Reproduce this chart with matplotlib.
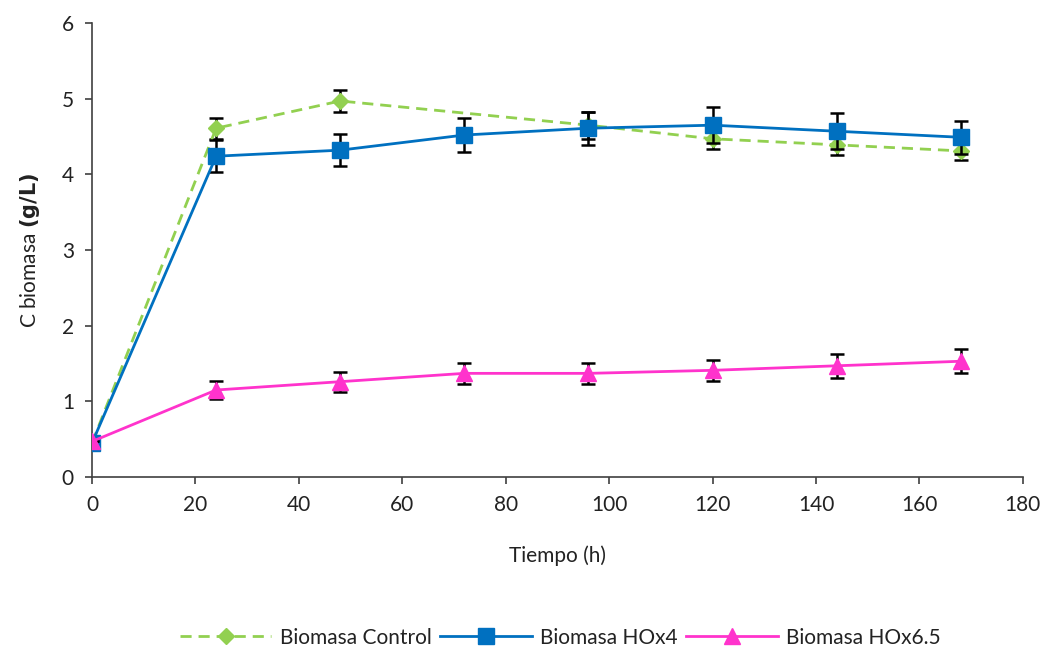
import matplotlib
matplotlib.use("Agg")
import matplotlib.pyplot as plt
from matplotlib.lines import Line2D

plt.rcParams['font.family'] = ['Lato', 'DejaVu Sans']

t_control = [0, 24, 48, 96, 120, 144, 168]
control = [0.45, 4.61, 4.97, 4.65, 4.47, 4.39, 4.31]
control_err = [0.0, 0.14, 0.15, 0.18, 0.13, 0.13, 0.12]

t_hox = [0, 24, 48, 72, 96, 120, 144, 168]
hox4 = [0.45, 4.24, 4.32, 4.52, 4.61, 4.65, 4.57, 4.49]
hox4_err = [0.0, 0.21, 0.21, 0.23, 0.22, 0.24, 0.24, 0.22]
hox65 = [0.47, 1.15, 1.26, 1.37, 1.37, 1.41, 1.47, 1.53]
hox65_err = [0.0, 0.12, 0.13, 0.14, 0.14, 0.14, 0.16, 0.16]

labels = ["Biomasa Control", "Biomasa HOx4", "Biomasa HOx6.5"]
colors = ["#92D050", "#0070C0", "#FF33CC"]

fig = plt.figure(figsize=(10.47, 6.49), dpi=100)
ax = fig.add_axes([0.0879, 0.265, 0.889, 0.6995])

ekw = dict(ecolor="black", elinewidth=1.8, capsize=5, capthick=1.8)
ax.errorbar(t_control, control, yerr=control_err, color=colors[0], ls=(0, (4, 2.5)),
            lw=2, marker="D", ms=8, zorder=3, **ekw)
ax.errorbar(t_hox, hox4, yerr=hox4_err, color=colors[1], ls="-", lw=2,
            marker="s", ms=12, zorder=4, **ekw)
ax.errorbar(t_hox, hox65, yerr=hox65_err, color=colors[2], ls="-", lw=2,
            marker="^", ms=11, zorder=5, **ekw)

ax.set_xlim(0, 180)
ax.set_ylim(0, 6)
ax.set_xticks(range(0, 181, 20))
ax.set_yticks(range(0, 7))
for s in ["top", "right"]:
    ax.spines[s].set_visible(False)
for s in ["left", "bottom"]:
    ax.spines[s].set_color("#404040")
    ax.spines[s].set_linewidth(1.2)
ax.tick_params(direction="out", length=5, width=1.2, color="#404040",
               labelsize=15, labelcolor="#222222", pad=8)

ax.set_xlabel("Tiempo (h)", fontsize=15, color="#222222", labelpad=22)
ax.set_ylabel(r"C biomasa $\bf{(g/L)}$", fontsize=15, color="#222222", labelpad=14)

handles = [
    Line2D([], [], color=colors[0], ls=(0, (4, 2.5)), lw=2, marker="D", ms=8),
    Line2D([], [], color=colors[1], ls="-", lw=2, marker="s", ms=11),
    Line2D([], [], color=colors[2], ls="-", lw=2, marker="^", ms=11),
]
fig.legend(handles, labels, loc="lower center", bbox_to_anchor=(0.535, -0.027), ncol=3,
           frameon=False, fontsize=15, handlelength=4.4, handletextpad=0.4,
           columnspacing=0.4, labelcolor="#222222")

fig.savefig("out.png", dpi=100)
